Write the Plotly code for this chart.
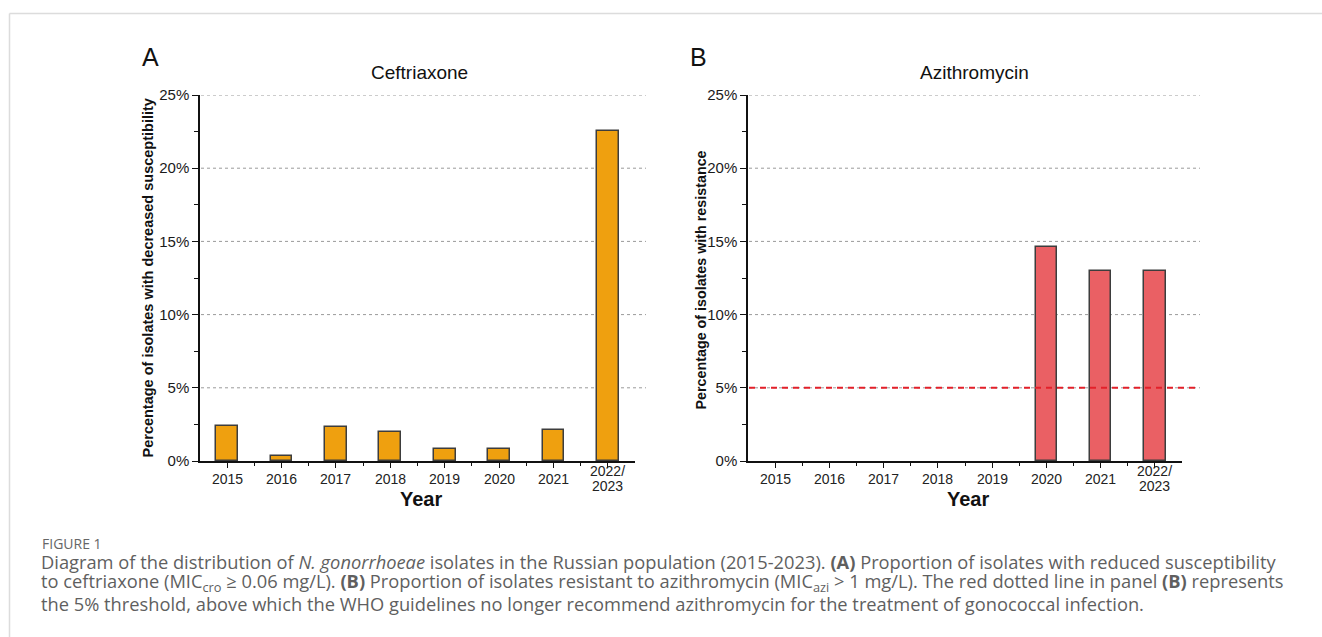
import plotly.graph_objects as go

W, H = 1322, 637

categories = ["2015", "2016", "2017", "2018", "2019", "2020", "2021", "2022/<br>2023"]
ceftriaxone = [2.39, 0.37, 2.32, 1.98, 0.82, 0.82, 2.15, 22.56]
azithromycin = [0, 0, 0, 0, 0, 14.6, 13.0, 12.95]
y_ticks = [0, 5, 10, 15, 20, 25]
y_ticktext = ["0%", "5%", "10%", "15%", "20%", "25%"]
threshold = 5

FONT = "Liberation Sans, Arial, sans-serif"
CAP_FONT = "Open Sans, sans-serif"


def X(px):
    return px / W


def Y(py):
    return 1 - py / H


xs = list(range(len(categories)))


def outline(vals):
    return [1.5 if v > 0 else 0 for v in vals]


fig = go.Figure()
fig.add_trace(go.Bar(x=xs, y=ceftriaxone, width=0.4, xaxis="x", yaxis="y",
                     marker=dict(color="#EFA00F", line=dict(color="#3d3d3d", width=outline(ceftriaxone))),
                     showlegend=False, hoverinfo="skip"))
fig.add_trace(go.Bar(x=xs, y=azithromycin, width=0.4, xaxis="x2", yaxis="y2",
                     marker=dict(color="#EA6064", line=dict(color="#3d3d3d", width=outline(azithromycin))),
                     showlegend=False, hoverinfo="skip"))

ydom = [Y(461), Y(95)]
xaxis_common = dict(range=[-0.5, 7.5], tickvals=xs, showticklabels=False, automargin=False,
                    ticks="outside", ticklen=5, tickwidth=1.2, tickcolor="#111",
                    showline=True, linecolor="#111", linewidth=1.5, showgrid=False,
                    zeroline=False, fixedrange=True,
                    minor=dict(tickvals=[i + 0.5 for i in xs[:-1]], ticks="outside",
                               ticklen=3, tickwidth=1.2, tickcolor="#111"))
yaxis_common = dict(range=[0, 25], tickvals=y_ticks, ticktext=y_ticktext, automargin=False,
                    ticks="outside", ticklen=6, tickwidth=1.2, tickcolor="#111",
                    showline=True, linecolor="#111", linewidth=1.5, showgrid=False,
                    zeroline=False, fixedrange=True,
                    tickfont=dict(family=FONT, size=15, color="#1a1a1a"),
                    minor=dict(dtick=2.5, ticks="outside", ticklen=4, tickwidth=1.2,
                               tickcolor="#111"))

fig.update_layout(
    width=W, height=H, autosize=False,
    margin=dict(l=0, r=0, t=0, b=0, pad=0, autoexpand=False),
    paper_bgcolor="white", plot_bgcolor="rgba(0,0,0,0)",
    xaxis=dict(domain=[X(200), X(635)], anchor="y", **xaxis_common),
    yaxis=dict(domain=ydom, anchor="x", **yaxis_common),
    xaxis2=dict(domain=[X(748), X(1182)], anchor="y2", **xaxis_common),
    yaxis2=dict(domain=ydom, anchor="x2", **yaxis_common),
    bargap=0,
)

shapes = []
shapes.append(dict(type="line", xref="paper", yref="paper", x0=X(9.5), x1=1.0,
                   y0=Y(13.5), y1=Y(13.5), line=dict(color="#dcdcdc", width=1.5)))
shapes.append(dict(type="line", xref="paper", yref="paper", x0=X(9.5), x1=X(9.5),
                   y0=Y(13.5), y1=0, line=dict(color="#dcdcdc", width=1.5)))
for v in y_ticks[1:]:
    shapes.append(dict(type="line", xref="paper", yref="y", x0=X(201), x1=X(646),
                       y0=v, y1=v, layer="below",
                       line=dict(color="#9a9a9a", width=1, dash="3px,3px")))
    shapes.append(dict(type="line", xref="paper", yref="y2", x0=X(749), x1=X(1200),
                       y0=v, y1=v, layer="below",
                       line=dict(color="#9a9a9a", width=1, dash="3px,3px")))
shapes.append(dict(type="line", xref="paper", yref="y2", x0=X(749), x1=X(1200),
                   y0=threshold, y1=threshold,
                   line=dict(color="#e3202a", width=2, dash="6px,5px")))
fig.update_layout(shapes=shapes)

ann = []
LINE_H = 15
for xr in ["x", "x2"]:
    for i, c in enumerate(categories):
        parts = c.split("<br>")
        n = len(parts)
        for j, p in enumerate(parts):
            py = 478.5 + (j - (n - 1) / 2) * LINE_H
            ann.append(dict(x=i, xref=xr, y=Y(py), yref="paper", text=p, showarrow=False,
                            xanchor="center", yanchor="middle",
                            font=dict(family=FONT, size=14, color="#222")))

extra = [
    dict(x=X(150), y=Y(57), text="A", font=dict(family=FONT, size=25, color="#111")),
    dict(x=X(699), y=Y(57), text="B", font=dict(family=FONT, size=25, color="#111")),
    dict(x=X(419), y=Y(73), text="Ceftriaxone", font=dict(family=FONT, size=19, color="#111")),
    dict(x=X(974), y=Y(73), text="Azithromycin", font=dict(family=FONT, size=19, color="#111")),
    dict(x=X(421), y=Y(499), text="<b>Year</b>", font=dict(family=FONT, size=20, color="#111")),
    dict(x=X(968), y=Y(499), text="<b>Year</b>", font=dict(family=FONT, size=20, color="#111")),
    dict(x=X(147.5), y=Y(278), text="<b>Percentage of isolates with decreased susceptibility</b>",
         textangle=-90, font=dict(family=FONT, size=14.5, color="#111")),
    dict(x=X(700.5), y=Y(280), text="<b>Percentage of isolates with resistance</b>",
         textangle=-90, font=dict(family=FONT, size=14.3, color="#111")),
]
for a in extra:
    a.update(xref="paper", yref="paper", showarrow=False, xanchor="center", yanchor="middle")
ann += extra

cap_lines = [
    "Diagram of the distribution of <i>N. gonorrhoeae</i> isolates in the Russian population (2015-2023). "
    "<b>(A)</b> Proportion of isolates with reduced susceptibility",
    "to ceftriaxone (MIC<sub>cro</sub> ≥ 0.06 mg/L). <b>(B)</b> Proportion of isolates resistant to azithromycin "
    "(MIC<sub>azi</sub> > 1 mg/L). The red dotted line in panel <b>(B)</b> represents",
    "the 5% threshold, above which the WHO guidelines no longer recommend azithromycin for the treatment "
    "of gonococcal infection.",
]
cap_y = [561, 582, 603]
ann.append(dict(x=X(40), y=Y(543), xref="paper", yref="paper", text="FIGURE 1", showarrow=False,
                xanchor="left", yanchor="middle",
                font=dict(family=CAP_FONT, size=14, color="#666")))
for t, py in zip(cap_lines, cap_y):
    ann.append(dict(x=X(39), y=Y(py), xref="paper", yref="paper", text=t, showarrow=False,
                    xanchor="left", yanchor="middle",
                    font=dict(family=CAP_FONT, size=18.3, color="#5f5f5f")))

fig.update_layout(annotations=ann)

fig.write_html(
    "out.html",
    config={"displayModeBar": False},
    post_script="document.body.style.margin='0px';document.body.style.overflow='hidden';",
)
